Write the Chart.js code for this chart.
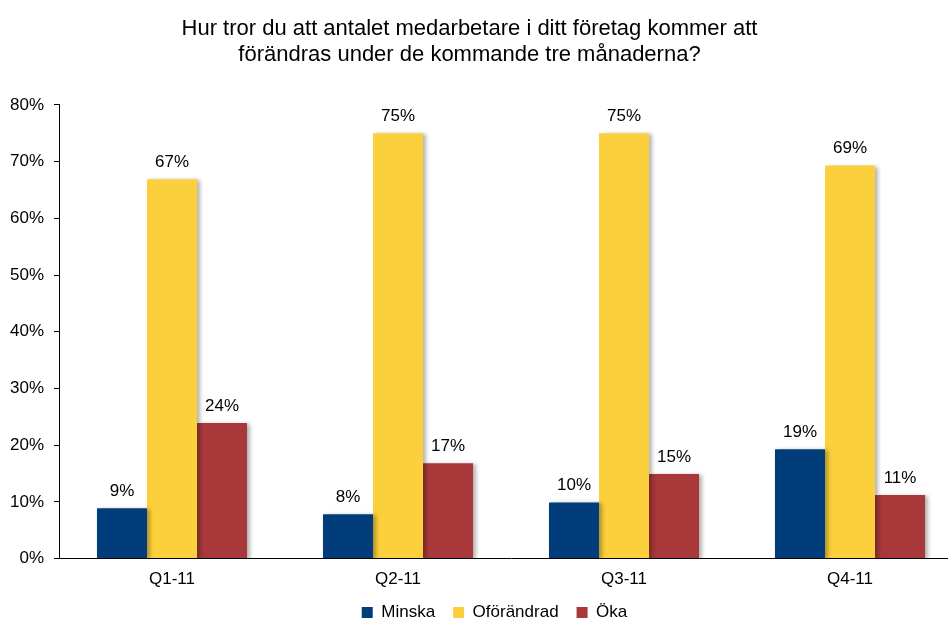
<!DOCTYPE html>
<html lang="sv">
<head>
    <meta charset="UTF-8">
    <title>Antal medarbetare</title>
    <script src="https://cdn.jsdelivr.net/npm/chart.js"></script>
    <style>
        html, body { margin: 0; padding: 0; background: #fff; overflow: hidden; }
        #outer { width: 948px; height: 619px; overflow: hidden; }
        #wrap { width: 963px; height: 646px; position: relative; }
    </style>
</head>
<body>
    <div id="outer"><div id="wrap"><canvas id="chart"></canvas></div></div>

    <script>
        const titleLines = ['Hur tror du att antalet medarbetare i ditt företag kommer att', 'förändras under de kommande tre månaderna?'];
        const quarters = ['Q1-11', 'Q2-11', 'Q3-11', 'Q4-11'];
        const minska = [8.9, 7.8, 9.9, 19.3];
        const oforandrad = [66.9, 75.0, 75.0, 69.3];
        const oka = [23.9, 16.8, 14.9, 11.2];
        const yTicks = [0, 10, 20, 30, 40, 50, 60, 70, 80];

        const font = 'Liberation Sans, Arial, sans-serif';

        // bar shadow, value labels, title/legend placement
        const barExtras = {
            id: 'barExtras',
            beforeDatasetsDraw(chart) {
                const ctx = chart.ctx;
                ctx.save();
                ctx.shadowColor = 'rgba(0,0,0,0.3)';
                ctx.shadowBlur = 4;
                ctx.shadowOffsetX = 3;
                ctx.shadowOffsetY = 1;
            },
            afterDatasetsDraw(chart) {
                const ctx = chart.ctx;
                ctx.restore();
                ctx.save();
                ctx.font = '17px ' + font;
                ctx.fillStyle = '#000';
                ctx.textAlign = 'center';
                ctx.textBaseline = 'middle';
                chart.data.datasets.forEach((ds, i) => {
                    chart.getDatasetMeta(i).data.forEach((bar, j) => {
                        ctx.fillText(Math.round(ds.data[j]) + '%', bar.x, bar.y - 17);
                    });
                });
                ctx.restore();
            },
            afterLayout(chart) {
                if (chart.titleBlock) { chart.titleBlock.left -= 12; chart.titleBlock.right -= 12; }
                if (chart.legend) {
                    chart.legend.left += 13; chart.legend.right += 13;
                    chart.legend.top -= 15; chart.legend.bottom -= 15;
                }
            }
        };

        new Chart(document.getElementById('chart'), {
            type: 'bar',
            data: {
                labels: quarters,
                datasets: [
                    { label: 'Minska', data: minska, backgroundColor: '#003d7a' },
                    { label: 'Oförändrad', data: oforandrad, backgroundColor: '#fcd03c' },
                    { label: 'Öka', data: oka, backgroundColor: '#a8383a' }
                ]
            },
            options: {
                responsive: true,
                maintainAspectRatio: false,
                animation: false,
                layout: { padding: 0 },
                datasets: { bar: { categoryPercentage: 0.664, barPercentage: 1, borderWidth: 0 } },
                plugins: {
                    title: {
                        display: true,
                        text: titleLines,
                        color: '#000',
                        font: { family: font, size: 22, weight: 'normal', lineHeight: 1.18 },
                        padding: { top: 16, bottom: 37 }
                    },
                    legend: {
                        position: 'bottom',
                        labels: {
                            color: '#000',
                            font: { family: font, size: 17 },
                            boxWidth: 11,
                            boxHeight: 11,
                            padding: 18
                        }
                    },
                    tooltip: { enabled: false }
                },
                scales: {
                    x: {
                        grid: { display: false, drawTicks: false },
                        border: { color: '#000', width: 1 },
                        ticks: { color: '#000', font: { family: font, size: 17 }, padding: 11 }
                    },
                    y: {
                        min: 0,
                        max: 80,
                        afterBuildTicks(scale) { scale.ticks = yTicks.map(v => ({ value: v })); },
                        afterFit(scale) { scale.width = 59; },
                        grid: { drawOnChartArea: false, color: '#000', tickLength: 5 },
                        border: { color: '#000', width: 1 },
                        ticks: {
                            color: '#000',
                            font: { family: font, size: 17 },
                            padding: 10,
                            callback: v => v + '%'
                        }
                    }
                }
            },
            plugins: [barExtras]
        });
    </script>
</body>
</html>
